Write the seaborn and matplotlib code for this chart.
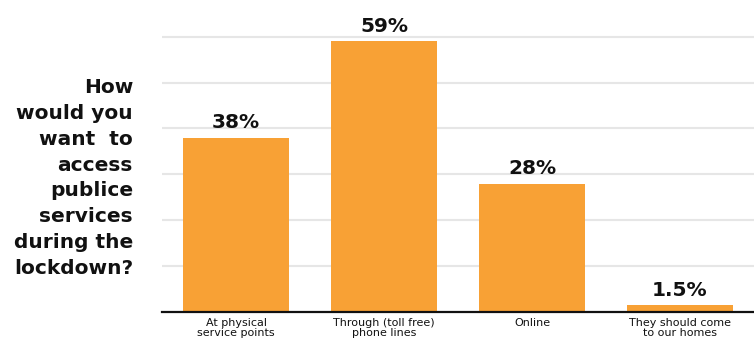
import matplotlib
matplotlib.use("Agg")
import matplotlib.pyplot as plt
import seaborn as sns
import pandas as pd

# Survey answers and their shares (%)
categories = ["At physical\nservice points", "Through (toll free)\nphone lines",
              "Online", "They should come\nto our homes"]
shares = [38, 59, 28, 1.5]
value_labels = ["38%", "59%", "28%", "1.5%"]
question = "How\nwould you\nwant  to\naccess\npublice\nservices\nduring the\nlockdown?"

sns.set_theme(style="white")
plt.rcParams["font.family"] = ["DejaVu Sans"]

df = pd.DataFrame({"answer": categories, "share": shares})

fig = plt.figure(figsize=(7.54, 3.45), dpi=100)
ax = fig.add_axes([162 / 754, 33 / 345, 592 / 754, 312 / 345])

sns.barplot(data=df, x="answer", y="share", color="#F8A135", saturation=1,
            width=0.72, linewidth=0, edgecolor="none", ax=ax, zorder=3)

ax.set_xlim(-0.5, 3.5)
ax.set_ylim(0, 68)
ax.set_yticks([10, 20, 30, 40, 50, 60])
ax.yaxis.grid(True, color="#e6e6e6", linewidth=1.5, zorder=0)
ax.xaxis.grid(False)
ax.tick_params(axis="y", left=False, labelleft=False)
ax.set_xlabel("")
ax.set_ylabel("")

for s in ["top", "right", "left"]:
    ax.spines[s].set_visible(False)
ax.spines["bottom"].set_color("#111111")
ax.spines["bottom"].set_linewidth(1.6)
ax.spines["bottom"].set_zorder(4)

# category labels under bars, boundary ticks pointing up
ax.tick_params(axis="x", which="major", length=0, pad=4, labelsize=8,
               labelcolor="#111111")
for lbl in ax.get_xticklabels():
    lbl.set_fontweight("normal")
    lbl.set_linespacing(1.0)
    lbl.set_verticalalignment("top")
ax.set_xticks([-0.5, 0.5, 1.5, 2.5], minor=True)
ax.tick_params(axis="x", which="minor", direction="in", length=7, width=1.6,
               color="#111111")

# value labels above bars
for i, (v, t) in enumerate(zip(shares, value_labels)):
    ax.text(i, v + 1.2, t, ha="center", va="bottom", fontsize=14.5,
            fontweight="bold", color="#111111", clip_on=False)

fig.text(133 / 754, 1 - 178 / 345, question, ha="right", va="center",
         fontsize=14.5, fontweight="bold", color="#111111", linespacing=1.45)

fig.savefig("out.png", dpi=100, facecolor="white")
